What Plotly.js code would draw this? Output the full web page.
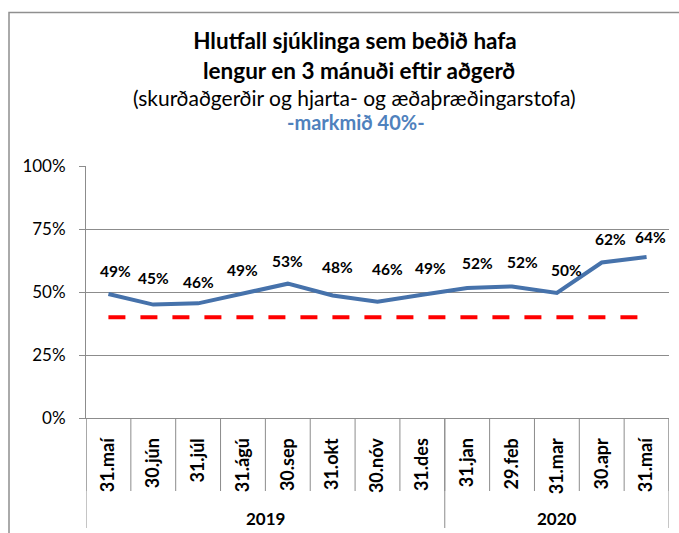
<!DOCTYPE html>
<html>
<head>
<meta charset="utf-8">
<script src="https://cdn.plot.ly/plotly-3.0.1.min.js"></script>
<style>html,body{margin:0;padding:0;background:#fff;}#chart{width:679px;height:533px;}</style>
</head>
<body>
<div id="chart"></div>
<script>
// ---- data ----
const categories = ['31.maí','30.jún','31.júl','31.ágú','30.sep','31.okt','30.nóv','31.des','31.jan','29.feb','31.mar','30.apr','31.maí'];
const years = ['2019','2019','2019','2019','2019','2019','2019','2019','2020','2020','2020','2020','2020'];
const values = [49.2,45.0,45.5,49.2,53.3,48.6,46.1,48.9,51.6,52.2,49.6,61.7,63.9];
const valueLabels = ['49%','45%','46%','49%','53%','48%','46%','49%','52%','52%','50%','62%','64%'];
const target = [40,40,40,40,40,40,40,40,40,40,40,40,40];
const yTickVals = [0,25,50,75,100];
const yTickText = ['0%','25%','50%','75%','100%'];
const titleLines = ['Hlutfall sjúklinga sem beðið hafa','lengur en 3 mánuði eftir aðgerð','(skurðaðgerðir og hjarta- og æðaþræðingarstofa)','-markmið 40%-'];

// ---- label placement (style only) ----
const labelDx = [7,0,0,0,0,5,10,8,10,10,10,9,4];
const labelDy = [23,27,21,24,23,29,33,27,25,24,23,24,20];

const idx = categories.map((_, i) => i);
const GRID = '#8c8c8c';

const traces = [
  {x: idx, y: target, type: 'scatter', mode: 'lines', name: 'markmið',
   line: {color: '#ff0000', width: 4, dash: '17px,15px'}, hoverinfo: 'skip'},
  {x: idx, y: values, type: 'scatter', mode: 'lines', name: 'hlutfall',
   line: {color: '#4672ab', width: 4}}
];

const plotH = 252;
const shapes = [];
for (let i = 0; i <= categories.length; i++) {
  shapes.push({type: 'line', xref: 'x', yref: 'paper', x0: i - 0.5, x1: i - 0.5,
    y0: 0, y1: -73 / plotH, line: {color: GRID, width: 1}});
}
const groups = [];
years.forEach((y, i) => {
  if (!groups.length || groups[groups.length - 1].name !== y) groups.push({name: y, start: i, end: i});
  else groups[groups.length - 1].end = i;
});
const annotations = [];
groups.forEach((g, gi) => {
  if (gi === 0) shapes.push({type: 'line', xref: 'x', yref: 'paper', x0: g.start - 0.5, x1: g.start - 0.5,
    y0: 0, y1: -110 / plotH, line: {color: GRID, width: 1}});
  shapes.push({type: 'line', xref: 'x', yref: 'paper', x0: g.end + 0.5, x1: g.end + 0.5,
    y0: 0, y1: -110 / plotH, line: {color: GRID, width: 1}});
  annotations.push({xref: 'x', yref: 'paper', x: (g.start + g.end) / 2, y: -100 / plotH,
    text: g.name, showarrow: false, xanchor: 'center', yanchor: 'middle',
    font: {family: 'Lato', size: 17, weight: 'bold', color: '#000'}});
});
shapes.push({type: 'rect', xref: 'paper', yref: 'paper', x0: (9 - 86) / 583, x1: 1.05,
  y0: -0.5, y1: (418 - 12.5) / plotH, line: {color: '#8f8f8f', width: 1.5}, fillcolor: 'rgba(0,0,0,0)'});

values.forEach((v, i) => {
  annotations.push({xref: 'x', yref: 'y', x: i, y: v, text: valueLabels[i], showarrow: false,
    xanchor: 'center', yanchor: 'middle', xshift: labelDx[i], yshift: labelDy[i],
    font: {family: 'Lato', size: 15.5, weight: 'bold', color: '#000'}});
});
const px = x => (x - 86) / 583;
const py = y => (418 - y) / plotH;
annotations.push({xref: 'paper', yref: 'paper', x: px(359), y: py(70), text: titleLines[1], showarrow: false,
  xanchor: 'center', yanchor: 'middle', font: {family: 'Lato', size: 22.5, weight: 'bold', color: '#000'}});
annotations.push({xref: 'paper', yref: 'paper', x: px(354), y: py(97), text: titleLines[2], showarrow: false,
  xanchor: 'center', yanchor: 'middle', font: {family: 'Lato', size: 21, color: '#000'}});
annotations.push({xref: 'paper', yref: 'paper', x: px(356), y: py(122), text: titleLines[3], showarrow: false,
  xanchor: 'center', yanchor: 'middle', font: {family: 'Lato', size: 20, weight: 'bold', color: '#4f81bd'}});

const layout = {
  width: 679, height: 533,
  margin: {l: 86, r: 10, t: 166, b: 115},
  paper_bgcolor: '#fff', plot_bgcolor: '#fff',
  showlegend: false,
  title: {text: titleLines[0], x: 355 / 679, xanchor: 'center', y: 1 - 41 / 533, yanchor: 'middle',
    font: {family: 'Lato', size: 22.5, weight: 'bold', color: '#000'}},
  xaxis: {range: [-0.5, categories.length - 0.5], tickmode: 'array', tickvals: idx, ticktext: categories,
    tickangle: -90, ticks: '', showgrid: false, zeroline: false, showline: true, linecolor: GRID, linewidth: 1,
    ticklabelstandoff: 12, tickfont: {family: 'Lato', size: 18, weight: 'bold', color: '#000'}, fixedrange: true},
  yaxis: {range: [0, 100], tickmode: 'array', tickvals: yTickVals, ticktext: yTickText,
    ticks: 'outside', ticklen: 6, tickcolor: GRID, showgrid: true, gridcolor: GRID, gridwidth: 1,
    zeroline: false, showline: true, linecolor: GRID, linewidth: 1, ticklabelstandoff: 10,
    tickfont: {family: 'Lato', size: 17, color: '#000'}, fixedrange: true},
  shapes: shapes,
  annotations: annotations
};

Plotly.newPlot('chart', traces, layout, {displayModeBar: false, staticPlot: true});
</script>
</body>
</html>
